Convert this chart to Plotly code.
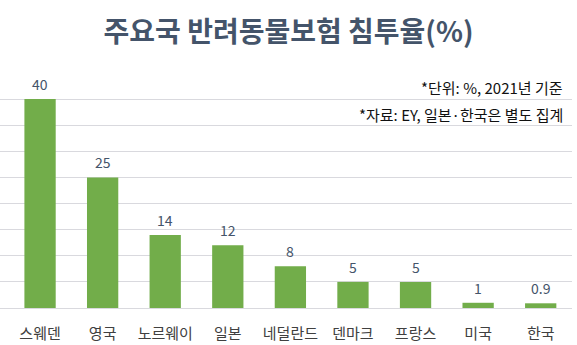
import plotly.graph_objects as go

# Pet insurance penetration by country (%)
countries = ["스웨덴", "영국", "노르웨이", "일본", "네덜란드", "덴마크", "프랑스", "미국", "한국"]
rates = [40, 25, 14, 12, 8, 5, 5, 1, 0.9]
rate_labels = ["40", "25", "14", "12", "8", "5", "5", "1", "0.9"]

title_text = "주요국 반려동물보험 침투율(%)"
notes = ["*단위: %, 2021년 기준", "*자료: EY, 일본·한국은 별도 집계"]

KR_FONT = "Noto Sans CJK KR"
BAR_GREEN = "#72ad4a"
SLATE = "#44546a"

fig = go.Figure()
fig.add_trace(go.Bar(
    x=list(range(len(countries))),
    y=rates,
    width=0.5,
    marker=dict(color=BAR_GREEN, line=dict(width=0)),
    hoverinfo="skip",
))

# value labels above each bar
annotations = []
for i, (v, lab) in enumerate(zip(rates, rate_labels)):
    annotations.append(dict(
        x=i, y=v, xref="x", yref="y", text=lab, showarrow=False,
        yanchor="bottom", yshift=3,
        font=dict(family=KR_FONT, size=14, color=SLATE),
    ))

# footnotes in the upper right corner (pixel rows converted to paper coords)
plot_top, plot_bottom = 73, 308
for k, note in enumerate(notes):
    row = [87, 114][k]
    annotations.append(dict(
        x=1.0 - 7 / 572, y=(plot_bottom - row) / (plot_bottom - plot_top),
        xref="paper", yref="paper", text=note,
        showarrow=False, xanchor="right", yanchor="middle",
        font=dict(family=KR_FONT, size=15, color="#111111"),
    ))

fig.update_layout(
    width=577, height=345,
    margin=dict(l=0, r=5, t=plot_top, b=345 - plot_bottom),
    paper_bgcolor="white", plot_bgcolor="white",
    showlegend=False,
    title=dict(
        text=f"<b>{title_text}</b>", x=0.5, xanchor="center",
        yref="container", y=1 - 32 / 345, yanchor="middle",
        font=dict(family=KR_FONT, size=28, color=SLATE),
    ),
    xaxis=dict(
        tickmode="array", tickvals=list(range(len(countries))), ticktext=countries,
        range=[-0.64, 8.5], showgrid=False, zeroline=False, showline=False,
        ticks="outside", ticklen=12, tickcolor="rgba(0,0,0,0)",
        tickfont=dict(family=KR_FONT, size=15, color="#404040"),
    ),
    yaxis=dict(
        range=[0, 45], dtick=5, showticklabels=False, showgrid=True,
        gridcolor="#d9d9de", gridwidth=1, zeroline=True, zerolinecolor="#d9d9de",
        zerolinewidth=1, showline=False,
    ),
    annotations=annotations,
)

fig.write_html("out.html")
